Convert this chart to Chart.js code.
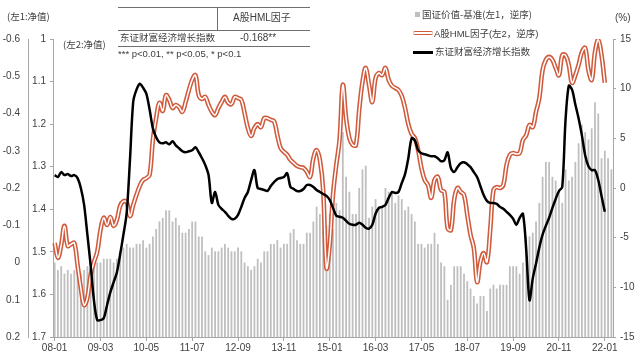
<!DOCTYPE html>
<html><head><meta charset="utf-8">
<script src="https://cdn.jsdelivr.net/npm/chart.js@4.4.1/dist/chart.umd.min.js"></script>
<style>
body{margin:0;background:#fff;}
#wrap{position:relative;width:640px;height:357px;overflow:hidden;background:#fff;}
canvas{position:absolute;left:0;top:0;}
.t{position:absolute;white-space:nowrap;transform:translateY(-50%);line-height:1;color:#404040;}
.cjk{font-family:"Noto Sans CJK SC",sans-serif;font-size:9.5px;}
.lat{font-family:"Liberation Sans","Noto Sans CJK SC",sans-serif;font-size:10px;}
.ln{position:absolute;background:#6f6f6f;}
</style></head><body>
<div id="wrap">
<canvas id="c" width="640" height="357"></canvas>
<div class="t cjk" style="left:7px;top:17px;">(左1:净值)</div>
<div class="t cjk" style="left:63px;top:45px;">(左2:净值)</div>
<div class="t lat" style="left:615px;top:18px;">(%)</div>
<div class="ln" style="left:118px;top:7px;width:192px;height:1px;"></div>
<div class="ln" style="left:217px;top:7px;width:1px;height:23px;"></div>
<div class="ln" style="left:118px;top:30px;width:192px;height:1px;"></div>
<div class="ln" style="left:118px;top:46px;width:192px;height:1px;"></div>
<div class="t lat" style="left:233px;top:18px;">A股HML因子</div>
<div class="t cjk" style="left:120px;top:38px;">东证财富经济增长指数</div>
<div class="t lat" style="left:240px;top:38px;">-0.168**</div>
<div class="t lat" style="left:118px;top:54px;font-size:9.5px;">*** p&lt;0.01, ** p&lt;0.05, * p&lt;0.1</div>
<div style="position:absolute;left:415px;top:12px;width:5px;height:5px;background:#bfbfbf;"></div>
<div class="t cjk" style="left:422px;top:15px;">国证价值-基准(左1，逆序)</div>
<div style="position:absolute;left:413px;top:31px;width:20px;height:1.5px;background:#fff;border-top:1.5px solid #d05a3c;border-bottom:1.5px solid #d05a3c;border-radius:2px;"></div>
<div class="t lat" style="left:434px;top:34px;font-size:9.5px;">A股HML因子(左2，逆序)</div>
<div style="position:absolute;left:413px;top:51px;width:20px;height:2.5px;background:#000;"></div>
<div class="t cjk" style="left:435px;top:52px;">东证财富经济增长指数</div>
</div>
<script>
const categories = [
'08-01','08-02','08-03','08-04','08-05','08-06','08-07','08-08','08-09','08-10','08-11','08-12',
'09-01','09-02','09-03','09-04','09-05','09-06','09-07','09-08','09-09','09-10','09-11','09-12',
'10-01','10-02','10-03','10-04','10-05','10-06','10-07','10-08','10-09','10-10','10-11','10-12',
'11-01','11-02','11-03','11-04','11-05','11-06','11-07','11-08','11-09','11-10','11-11','11-12',
'12-01','12-02','12-03','12-04','12-05','12-06','12-07','12-08','12-09','12-10','12-11','12-12',
'13-01','13-02','13-03','13-04','13-05','13-06','13-07','13-08','13-09','13-10','13-11','13-12',
'14-01','14-02','14-03','14-04','14-05','14-06','14-07','14-08','14-09','14-10','14-11','14-12',
'15-01','15-02','15-03','15-04','15-05','15-06','15-07','15-08','15-09','15-10','15-11','15-12',
'16-01','16-02','16-03','16-04','16-05','16-06','16-07','16-08','16-09','16-10','16-11','16-12',
'17-01','17-02','17-03','17-04','17-05','17-06','17-07','17-08','17-09','17-10','17-11','17-12',
'18-01','18-02','18-03','18-04','18-05','18-06','18-07','18-08','18-09','18-10','18-11','18-12',
'19-01','19-02','19-03','19-04','19-05','19-06','19-07','19-08','19-09','19-10','19-11','19-12',
'20-01','20-02','20-03','20-04','20-05','20-06','20-07','20-08','20-09','20-10','20-11','20-12',
'21-01','21-02','21-03','21-04','21-05','21-06','21-07','21-08','21-09','21-10','21-11','21-12',
'22-01','22-02','22-03'];

// 国证价值-基准 (left 1, reversed)
const valueMinusBench = [
0.00,0.02,0.01,0.03,0.02,0.03,0.02,0.01,0.03,0.02,
0.01,0.00,0.01,0.00,0.00,-0.01,-0.01,-0.01,0.00,-0.01,
-0.03,-0.04,-0.05,-0.04,-0.04,-0.05,-0.05,-0.06,-0.04,-0.05,
-0.07,-0.09,-0.11,-0.12,-0.14,-0.14,-0.11,-0.12,-0.10,-0.08,
-0.08,-0.09,-0.11,-0.11,-0.07,-0.07,-0.03,-0.02,-0.04,-0.03,
-0.03,-0.04,-0.05,-0.04,-0.03,-0.03,-0.04,-0.03,0.00,0.01,
0.02,0.01,-0.01,0.00,-0.03,-0.03,-0.05,-0.05,-0.06,-0.04,
-0.05,-0.05,-0.08,-0.09,-0.06,-0.05,-0.05,-0.08,-0.08,-0.11,
-0.15,-0.13,-0.11,-0.10,-0.13,-0.09,-0.16,-0.14,-0.35,-0.23,
-0.19,-0.13,-0.13,-0.20,-0.25,-0.26,-0.12,-0.15,-0.17,-0.15,
-0.15,-0.20,-0.19,-0.19,-0.16,-0.18,-0.17,-0.14,-0.15,-0.13,
-0.11,-0.05,-0.05,-0.04,-0.05,-0.05,-0.08,-0.05,0.00,0.01,
0.10,0.06,0.01,0.01,0.01,0.03,0.05,0.07,0.09,0.11,
0.09,0.09,0.13,0.07,0.06,0.07,0.06,0.06,0.06,0.01,
0.01,0.01,0.03,0.00,-0.07,-0.07,-0.08,-0.11,-0.16,-0.23,
-0.27,-0.27,-0.23,-0.22,-0.19,-0.16,-0.25,-0.22,-0.23,-0.27,
-0.32,-0.37,-0.35,-0.33,-0.36,-0.43,-0.40,-0.28,-0.30,-0.28,-0.25];

// A股HML因子 net value (left 2, reversed)
const hmlFactor = [
1.479,1.514,1.484,1.439,1.486,1.482,1.479,1.531,1.585,1.625,
1.608,1.554,1.524,1.500,1.449,1.420,1.437,1.418,1.439,1.425,
1.392,1.381,1.383,1.416,1.390,1.366,1.345,1.331,1.327,1.319,
1.237,1.186,1.150,1.169,1.132,1.143,1.162,1.155,1.160,1.171,
1.148,1.120,1.096,1.085,1.132,1.141,1.136,1.155,1.171,1.179,
1.162,1.148,1.136,1.150,1.153,1.136,1.139,1.143,1.174,1.209,
1.228,1.209,1.200,1.207,1.186,1.186,1.190,1.193,1.226,1.256,
1.265,1.272,1.284,1.291,1.298,1.301,1.303,1.312,1.324,1.280,
1.261,1.284,1.355,1.538,1.484,1.366,1.296,1.237,1.108,1.186,
1.233,1.249,1.249,1.167,1.101,1.068,1.108,1.148,1.092,1.080,
1.085,1.068,1.096,1.110,1.115,1.120,1.134,1.162,1.200,1.223,
1.233,1.261,1.303,1.331,1.343,1.373,1.331,1.324,1.355,1.359,
1.444,1.449,1.378,1.350,1.359,1.366,1.413,1.460,1.491,1.571,
1.524,1.503,1.524,1.449,1.355,1.348,1.350,1.343,1.296,1.272,
1.268,1.270,1.268,1.237,1.226,1.202,1.207,1.171,1.139,1.073,
1.049,1.042,1.049,1.068,1.085,1.038,1.038,1.061,1.103,1.085,
1.061,1.031,1.021,1.073,1.096,1.031,1.002,1.038,1.103,null,null];

// 东证财富经济增长指数 (right axis, %)
const growthIndex = [
1.3,1.1,1.6,1.3,1.4,1.2,1.3,1.0,0.0,-1.7,
-4.7,-7.8,-11.3,-13.3,-13.3,-13.1,-11.8,-10.5,-9.5,-8.5,
-6.7,-4.7,-2.5,2.8,8.7,9.9,10.5,10.1,9.5,7.9,
6.0,5.1,4.6,4.5,4.6,4.4,4.7,4.3,4.0,3.7,
3.6,3.7,3.8,4.1,3.6,3.0,2.3,1.3,-1.5,-0.4,
-1.7,-2.1,-2.4,-2.8,-3.1,-3.1,-2.7,-1.9,-1.0,-0.4,
0.8,1.8,0.0,-0.1,-0.2,-0.3,0.2,0.6,0.9,1.0,
1.1,1.5,0.1,-0.1,-0.3,-0.3,-0.1,0.3,0.3,0.1,
-0.2,-0.4,-0.6,-0.8,-1.2,-2.0,-2.8,-2.9,-3.0,-3.3,
-3.6,-3.7,-3.7,-3.5,-3.7,-4.0,-4.1,-3.7,-2.6,-2.0,
-1.9,-1.7,-1.0,-0.4,-0.5,-0.4,0.5,1.4,3.0,5.0,
4.8,3.8,3.5,3.4,3.3,3.2,3.2,3.0,2.7,2.8,
3.6,2.0,1.6,2.1,2.5,2.6,2.4,2.1,1.6,1.1,
0.2,-0.7,-1.3,-1.5,-1.5,-1.6,-1.9,-2.1,-2.4,-2.7,
-3.1,-3.7,-3.0,-2.6,-6.2,-11.3,-9.1,-7.6,-6.0,-4.7,
-3.8,-3.0,-2.0,-1.1,-0.3,0.1,6.8,10.3,9.9,8.4,
7.0,5.3,3.3,2.2,1.8,1.8,0.8,-0.8,-2.4,null,null];

const labelEvery = 14;
const left1Ticks = {min:-0.6, max:0.2, step:0.1};
const left2Ticks = {min:1.0, max:1.7, step:0.1};
const rightTicks = {min:-15, max:15, step:5};

const AXIS = '#a6a6a6';
const TXT = '#404040';
const tickFont = {family:'Liberation Sans', size:10};
const fmt = v => String(parseFloat(v.toFixed(1)));

new Chart(document.getElementById('c'), {
  data: {
    labels: categories,
    datasets: [
      {type:'line', label:'东证财富经济增长指数', data: growthIndex, yAxisID:'yR',
       borderColor:'#000', borderWidth:2.5, pointRadius:0, tension:0.3, order:0},
      {type:'line', label:'hml-inner', data: hmlFactor, yAxisID:'yL2',
       borderColor:'#ffffff', borderWidth:1.5, pointRadius:0, tension:0.4, order:1},
      {type:'line', label:'A股HML因子', data: hmlFactor, yAxisID:'yL2',
       borderColor:'#d05a3c', borderWidth:4.6, pointRadius:0, tension:0.4, order:2},
      {type:'bar', label:'国证价值-基准', data: valueMinusBench.map(v => [left1Ticks.max, v]), yAxisID:'yL1',
       backgroundColor:'#bfbfbf', barPercentage:0.55, categoryPercentage:1.0, order:3}
    ]
  },
  options: {
    responsive:false, animation:false, devicePixelRatio:1,
    layout:{padding:{top:39, left:0, right:0, bottom:0}},
    plugins:{legend:{display:false}, tooltip:{enabled:false}},
    scales: {
      x: {type:'category', offset:true,
          grid:{offset:false, drawOnChartArea:false, drawTicks:true, tickLength:4,
                color: ctx => (ctx.index % labelEvery === 0) ? AXIS : 'rgba(0,0,0,0)'},
          border:{display:true, color:AXIS},
          ticks:{autoSkip:false, maxRotation:0, minRotation:0, padding:1, color:TXT, font:tickFont,
                 callback:(v, i) => (i % labelEvery === 0) ? categories[i] : ''},
          afterFit: s => { s.height = 20; }},
      yL1: {type:'linear', position:'left', weight:2, reverse:true,
            min:left1Ticks.min, max:left1Ticks.max,
            grid:{display:false, drawTicks:false, tickLength:0}, border:{display:true, color:AXIS},
            ticks:{stepSize:left1Ticks.step, padding:8, color:TXT, font:tickFont, callback: v => fmt(v)},
            afterFit: s => { s.width = 28; }},
      yL2: {type:'linear', position:'left', weight:1, reverse:true,
            min:left2Ticks.min, max:left2Ticks.max,
            grid:{display:true, drawOnChartArea:false, drawTicks:true, tickLength:3, color:AXIS},
            border:{display:true, color:AXIS},
            ticks:{stepSize:left2Ticks.step, padding:4, color:TXT, font:tickFont, callback: v => fmt(v)},
            afterFit: s => { s.width = 25; }},
      yR: {type:'linear', position:'right',
           min:rightTicks.min, max:rightTicks.max,
           grid:{display:true, drawOnChartArea:false, drawTicks:true, tickLength:3, color:AXIS},
           border:{display:true, color:AXIS},
           ticks:{stepSize:rightTicks.step, padding:4, color:TXT, font:tickFont},
           afterFit: s => { s.width = 27; }}
    }
  }
});
</script>
</body></html>
